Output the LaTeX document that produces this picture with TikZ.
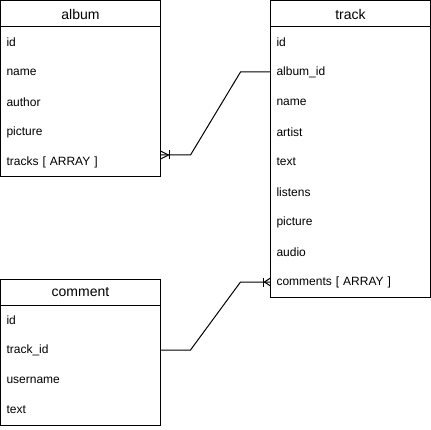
\documentclass[tikz,border=0pt]{standalone}
\usepackage{fontspec}
\setmainfont{Liberation Sans}
\usepackage{tikz}
\usetikzlibrary{positioning}
\tikzstyle{entity} = [rectangle, draw, line width=1pt, minimum width=160pt, minimum height=26pt,
    outer sep=0pt, inner sep=0pt, font=\fontsize{14pt}{16pt}\selectfont]
\tikzstyle{field} = [rectangle, text width=148pt, inner xsep=6pt, inner ysep=0pt,
    minimum height=30pt, outer sep=0pt, align=left]
\tikzstyle{link} = [line width=1pt]

\begin{document}
\begin{tikzpicture}[x=1pt, y=1pt]
\fontsize{12pt}{14pt}\selectfont
\useasboundingbox (0,0) rectangle (431,429);

\node (album) [entity] at (80.5,415) {album};
\node (album-id) [field, below=0pt of album] {id};
\node (album-name) [field, below=0pt of album-id] {name};
\node (album-author) [field, below=0pt of album-name] {author};
\node (album-picture) [field, below=0pt of album-author] {picture};
\node (album-tracks) [field, below=0pt of album-picture] {tracks [ ARRAY ]};

\node (track) [entity] at (350.5,415) {track};
\node (track-id) [field, below=0pt of track] {id};
\node (track-albumid) [field, below=0pt of track-id] {album\_id};
\node (track-name) [field, below=0pt of track-albumid] {name};
\node (track-artist) [field, below=0pt of track-name] {artist};
\node (track-text) [field, below=0pt of track-artist] {text};
\node (track-listens) [field, below=0pt of track-text] {listens};
\node (track-picture) [field, below=0pt of track-listens] {picture};
\node (track-audio) [field, below=0pt of track-picture] {audio};
\node (track-comments) [field, below=0pt of track-audio] {comments [ ARRAY ]};

\node (comment) [entity] at (80.5,137) {comment};
\node (comment-id) [field, below=0pt of comment] {id};
\node (comment-trackid) [field, below=0pt of comment-id] {track\_id};
\node (comment-username) [field, below=0pt of comment-trackid] {username};
\node (comment-text) [field, below=0pt of comment-username] {text};

\draw [link] (album.north west) rectangle (album-tracks.south east);
\draw [link] (track.north west) rectangle (track-comments.south east);
\draw [link] (comment.north west) rectangle (comment-text.south east);

\coordinate (tracks-end) at ([yshift=7pt]album-tracks.east);

\draw [link] (tracks-end) -- ++(30,0) -- ([xshift=-30pt]track-albumid.west) -- (track-albumid.west);
\draw [link] ([yshift=4pt]tracks-end) -- ++(8,-4) -- ++(-8,-4);
\draw [link] ([shift={(9,4.5)}]tracks-end) -- ++(0,-9);

\draw [link] (comment-trackid.east) -- ++(30,0) -- ([xshift=-30pt]track-comments.west) -- (track-comments.west);
\draw [link] ([yshift=4pt]track-comments.west) -- ++(-6,-4) -- ++(6,-4);
\draw [link] ([shift={(-7,4.5)}]track-comments.west) -- ++(0,-9);

\end{tikzpicture}
\end{document}
